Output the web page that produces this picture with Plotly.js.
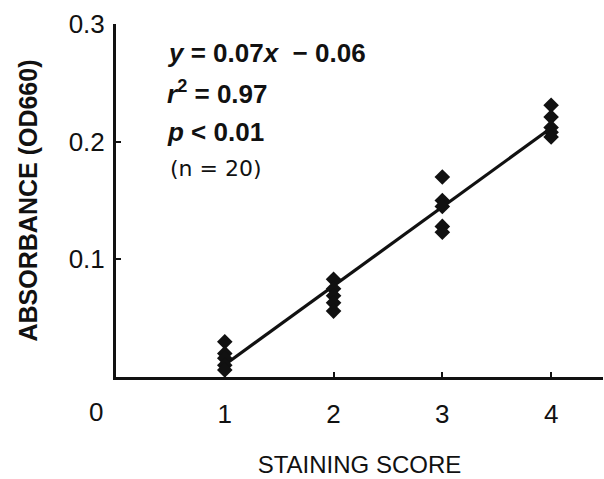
<!DOCTYPE html>
<html>
<head>
<meta charset="utf-8">
<script src="https://cdn.plot.ly/plotly-3.0.1.min.js"></script>
<style>html,body{margin:0;padding:0;background:#fff}#chart{width:604px;height:479px}</style>
</head>
<body>
<div id="chart"></div>
<script>
// Data
const scoreX = [1,1,1,1,1, 2,2,2,2,2, 3,3,3,3,3, 4,4,4,4,4];
const absorbance = [0.030,0.020,0.016,0.010,0.006,
                    0.083,0.075,0.069,0.063,0.056,
                    0.170,0.150,0.145,0.128,0.123,
                    0.231,0.221,0.212,0.208,0.204];
const xTickVals = [1,2,3,4];
const xTickText = ['1','2','3','4'];
const yTickVals = [0.1,0.2,0.3];
const yTickText = ['0.1','0.2','0.3'];
const fitRange = [1,4];

// least-squares fit from the data
const n = scoreX.length;
const mx = scoreX.reduce((a,b)=>a+b,0)/n;
const my = absorbance.reduce((a,b)=>a+b,0)/n;
let sxy=0, sxx=0;
for(let i=0;i<n;i++){sxy+=(scoreX[i]-mx)*(absorbance[i]-my);sxx+=(scoreX[i]-mx)**2;}
const slope = sxy/sxx, icpt = my - slope*mx;
const fitY = fitRange.map(x=>slope*x+icpt);

const FONT = 'Liberation Sans, Arial, Helvetica, sans-serif';

const traces = [
  {x: fitRange, y: fitY, mode:'lines', line:{color:'#111', width:3.2}, hoverinfo:'skip', cliponaxis:false},
  {x: scoreX, y: absorbance, mode:'markers', marker:{symbol:'diamond', size:12, color:'#111'}, cliponaxis:false}
];

const layout = {
  width:604, height:479,
  margin:{l:116, r:1, t:24, b:102},
  paper_bgcolor:'#fff', plot_bgcolor:'#fff',
  showlegend:false,
  font:{family:FONT, color:'#111'},
  xaxis:{
    range:[0, 4.477], showgrid:false, zeroline:false,
    showline:true, linecolor:'#111', linewidth:3,
    ticks:'inside', ticklen:5, tickwidth:2, tickcolor:'#111',
    tickvals:xTickVals, ticktext:xTickText,
    tickfont:{size:26, family:FONT, color:'#111'},
    ticklabelstandoff:12,
    title:{text:'STAINING SCORE', font:{size:24, family:FONT, color:'#111'}, standoff:28}
  },
  yaxis:{
    range:[0, 0.3], showgrid:false, zeroline:false,
    showline:true, linecolor:'#111', linewidth:3,
    ticks:'inside', ticklen:5, tickwidth:2, tickcolor:'#111',
    tickvals:yTickVals, ticktext:yTickText,
    tickfont:{size:26, family:FONT, color:'#111'},
    ticklabelstandoff:3,
    title:{text:'<b>ABSORBANCE (OD660)</b>', font:{size:25, family:FONT, color:'#111'}, standoff:24}
  },
  annotations:[
    {x:-0.041, y:-0.099, xref:'paper', yref:'paper', text:'0', showarrow:false, xanchor:'center', yanchor:'middle', font:{size:26, family:FONT, color:'#111'}},
    {x:0.45, y:0.2753, xref:'x', yref:'y', text:'<b><i>y</i> = 0.07<i>x</i>  − 0.06</b>', showarrow:false, xanchor:'left', yanchor:'middle', font:{size:26, family:FONT, color:'#111'}},
    {x:0.45, y:0.2414, xref:'x', yref:'y', text:'<b><i>r</i><sup>2</sup> = 0.97</b>', showarrow:false, xanchor:'left', yanchor:'middle', font:{size:26, family:FONT, color:'#111'}},
    {x:0.45, y:0.2082, xref:'x', yref:'y', text:'<b><i>p</i> &lt; 0.01</b>', showarrow:false, xanchor:'left', yanchor:'middle', font:{size:26, family:FONT, color:'#111'}},
    {x:0.48, y:0.1776, xref:'x', yref:'y', text:'(n = 20)', showarrow:false, xanchor:'left', yanchor:'middle', font:{size:22, family:'DejaVu Sans, sans-serif', color:'#111'}}
  ]
};

Plotly.newPlot('chart', traces, layout, {displayModeBar:false, staticPlot:true});
</script>
</body>
</html>
